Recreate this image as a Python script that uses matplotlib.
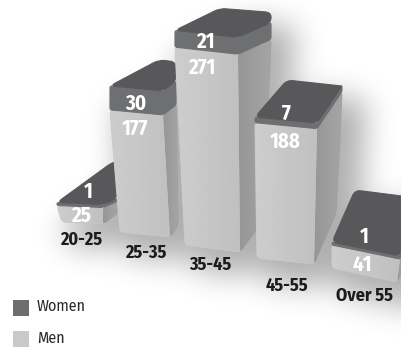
#!/usr/bin/env python3
"""Age group bars, women on top of men, drawn as pictorial blocks."""

import matplotlib
matplotlib.use("Agg")
import matplotlib.pyplot as plt
import numpy as np
from matplotlib import font_manager
from matplotlib.patches import PathPatch, Rectangle
from matplotlib.path import Path

W, H = 402, 347

groups = ["20-25", "25-35", "35-45", "45-55", "Over 55"]
men = [25, 177, 271, 188, 41]
women = [1, 30, 21, 7, 1]

# ----- block layout in pixels, one entry per bar -----
BASE_LEFT = [(62, 222), (120, 232), (185, 245), (257, 258), (332, 268)]
BASE_RIGHT = [(103, 224), (170, 237), (240, 252), (314, 264), (397, 282)]
BASE_SIDE = [(118, 213), (178, 225), (262, 222), (336, 213), (403, 270)]
TOP_X = [(57, 103), (110, 163), (175, 238), (255, 317), (332, 400)]
PX_PER_UNIT = [0.66, 0.69, 0.73, 0.72, 0.56]
DEPTH_LEFT = [(55, -40), (49, -26), (45, -22), (32, -37), (23, -52)]
DEPTH_BACK = [(14, -42), (13, -29), (33, -25), (25, -37), (2, -60)]
DEPTH_SIDE = [(14, -6), (13, -10), (33, -15), (25, -37), (2, -60)]
MIN_BAND = 3
LABEL_XY = [(81, 240), (146, 253), (210, 265), (287, 286), (365, 296)]
MEN_XY = [(81, 216), (135, 129), (202, 68), (285, 142), (362, 265)]
WOMEN_XY = [(88, 192), (136, 104), (205, 42), (286, 114), (364, 237)]

CAP, BAND, FRONT, SIDE = "#58585a", "#6e6f71", "#c8c9cb", "#9d9ea0"

available = {f.name for f in font_manager.fontManager.ttflist}
CANDIDATES = ["Fira Sans Condensed", "PT Sans Narrow", "Roboto Condensed", "Open Sans Condensed",
              "Barlow Condensed", "Archivo Narrow", "Saira ExtraCondensed", "Liberation Sans"]
NARROW = next(n for n in CANDIDATES if n in available)


def blur(img, sigma):
    r = int(sigma * 3)
    k = np.exp(-0.5 * (np.arange(-r, r + 1) / sigma) ** 2)
    k /= k.sum()
    img = np.apply_along_axis(lambda v: np.convolve(np.pad(v, r, mode="edge"), k, "valid"), 0, img)
    return np.apply_along_axis(lambda v: np.convolve(np.pad(v, r, mode="edge"), k, "valid"), 1, img)


def add(a, b):
    return (a[0] + b[0], a[1] + b[1])


def rounded(pts, r):
    # closed path with each corner cut back by r and bridged by a quadratic curve
    pts = [np.array(p, dtype=float) for p in pts]
    verts, codes = [], []
    n = len(pts)
    for i in range(n):
        p, prev, nxt = pts[i], pts[i - 1], pts[(i + 1) % n]
        a = p + (prev - p) * min(r / max(np.linalg.norm(prev - p), 1e-6), 0.45)
        b = p + (nxt - p) * min(r / max(np.linalg.norm(nxt - p), 1e-6), 0.45)
        verts.append(a)
        codes.append(Path.MOVETO if i == 0 else Path.LINETO)
        verts += [p, b]
        codes += [Path.CURVE3, Path.CURVE3]
    verts.append(verts[0])
    codes.append(Path.CLOSEPOLY)
    return Path(verts, codes)


def face(ax, pts, color, z, r=2, light=None):
    patch = PathPatch(rounded(pts, r), fc=color, ec=color, lw=0.8, zorder=z)
    ax.add_patch(patch)
    if light is not None:
        # horizontal shading clipped to the face
        xs = [p[0] for p in pts]
        ys = [p[1] for p in pts]
        grad = np.linspace(light[0], light[1], 64).reshape(1, -1)
        im = ax.imshow(grad, extent=(min(xs), max(xs), max(ys), min(ys)), cmap="gray",
                       vmin=0, vmax=255, aspect="auto", zorder=z + 0.1)
        im.set_clip_path(patch)


fig = plt.figure(figsize=(W / 100, H / 100), dpi=100)
ax = fig.add_axes((0, 0, 1, 1))

# ----- soft shadow behind the blocks -----
yy, xx = np.mgrid[0:H, 0:W]
grid = np.column_stack([xx.ravel() + 0.5, yy.ravel() + 0.5])
mask = np.zeros((H, W))
for i in range(len(groups)):
    h = men[i] * PX_PER_UNIT[i] + max(women[i] * 0.8, MIN_BAND)
    tl = (TOP_X[i][0], BASE_LEFT[i][1] - h)
    tr = (TOP_X[i][1], BASE_RIGHT[i][1] - h)
    outline = [tl, add(tl, DEPTH_LEFT[i]), add(tr, DEPTH_BACK[i]), BASE_SIDE[i], BASE_RIGHT[i], BASE_LEFT[i]]
    for off in [(24, 14), (6, 24)]:
        moved = Path([add(p, off) for p in outline])
        mask[moved.contains_points(grid).reshape(H, W)] = 1
shade = 255 - 80 * blur(mask, 15)
ax.imshow(shade, cmap="gray", vmin=0, vmax=255, extent=(0, W, H, 0), aspect="auto", zorder=0)

# ----- blocks, back to front -----
for z_i, i in enumerate([0, 1, 2, 4, 3]):
    z = 2 + z_i * 2
    bl, br, sb = BASE_LEFT[i], BASE_RIGHT[i], BASE_SIDE[i]
    men_h = men[i] * PX_PER_UNIT[i]
    band_h = max(women[i] * 0.8, MIN_BAND)
    ml = (TOP_X[i][0], bl[1] - men_h)
    mr = (TOP_X[i][1], br[1] - men_h)
    wl = (ml[0], ml[1] - band_h)
    wr = (mr[0], mr[1] - band_h)

    face(ax, [mr, add(mr, DEPTH_SIDE[i]), sb, br], SIDE, z, r=4, light=(150, 165))
    face(ax, [ml, mr, br, bl], FRONT, z, r=4, light=(205, 192))
    face(ax, [wr, add(wr, DEPTH_SIDE[i]), add(mr, DEPTH_SIDE[i]), mr], BAND, z + 0.3, r=2)
    face(ax, [wl, wr, mr, ml], BAND, z + 0.3, r=2)
    face(ax, [wl, add(wl, DEPTH_LEFT[i]), add(wr, DEPTH_BACK[i]), add(wr, DEPTH_SIDE[i]), wr], CAP, z + 0.4, r=6)

# ----- labels -----
for i, name in enumerate(groups):
    ax.text(*LABEL_XY[i], name, ha="center", va="center", family=NARROW, fontweight="bold",
            fontsize=13, color="#1c1c1e", zorder=30)
    ax.text(*MEN_XY[i], str(men[i]), ha="center", va="center", family=NARROW, fontweight="bold",
            fontsize=15, color="white", zorder=30)
    ax.text(*WOMEN_XY[i], str(women[i]), ha="center", va="center", family=NARROW, fontweight="bold",
            fontsize=15, color="white", zorder=30)

# ----- legend -----
ax.add_patch(Rectangle((13, 300), 16, 16, fc="#6e6e70", ec="none", zorder=30))
ax.add_patch(Rectangle((13, 331), 16, 16, fc="#c8c9cb", ec="none", zorder=30))
ax.text(37, 306, "Women", ha="left", va="center", family=NARROW, fontsize=11.5, color="#2a2a2c", zorder=30)
ax.text(37, 338, "Men", ha="left", va="center", family=NARROW, fontsize=11.5, color="#2a2a2c", zorder=30)

ax.set_xlim(0, W)
ax.set_ylim(H, 0)
ax.axis("off")
fig.savefig("out.png", dpi=100)
